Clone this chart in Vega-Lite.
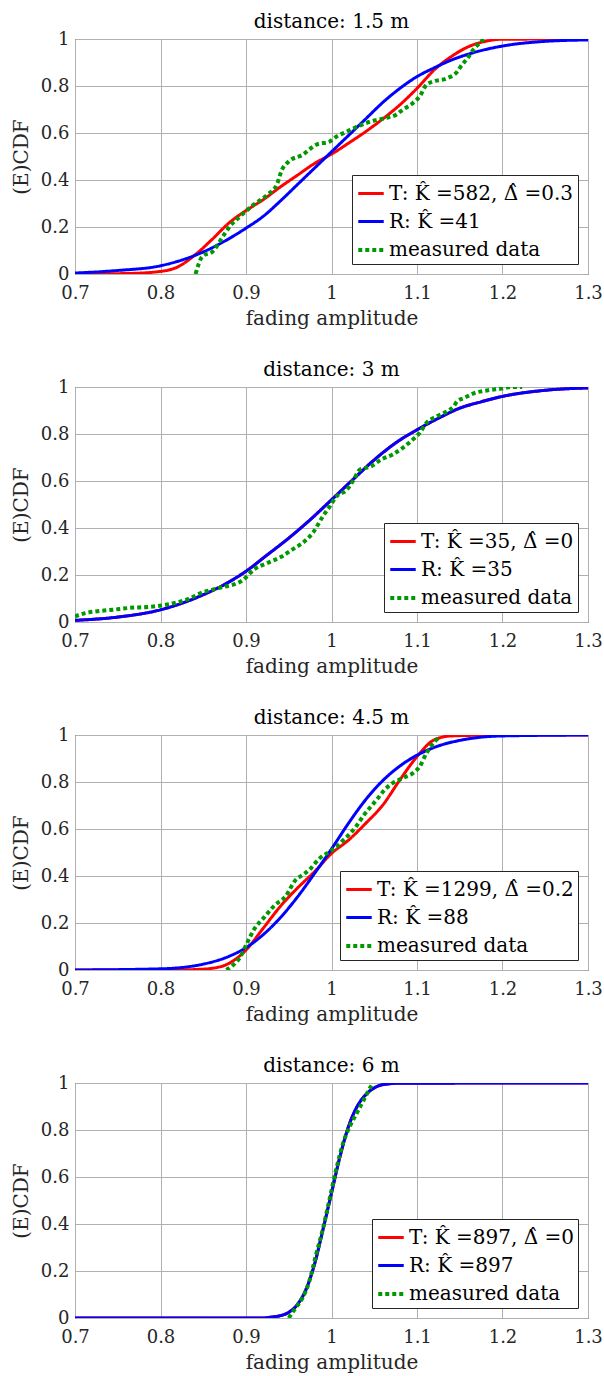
{
  "$schema": "https://vega.github.io/schema/vega-lite/v6.json",
  "background": "white",
  "padding": {"left": 10, "top": 11, "right": 10, "bottom": 5},
  "spacing": 30,
  "config": {
    "font": "DejaVu Serif",
    "style": {"guide-label": {"font": "DejaVu Serif"}, "guide-title": {"font": "DejaVu Serif"}},
    "view": {"stroke": "#262626", "strokeWidth": 1},
    "title": {"font": "DejaVu Serif", "fontSize": 20, "fontWeight": "normal", "color": "#000000", "offset": -2},
    "axis": {
      "labelFont": "DejaVu Serif", "labelFontSize": 18, "labelColor": "#262626", "labelFlush": false,
      "titleFont": "DejaVu Serif", "titleFontSize": 20, "titleFontWeight": "normal", "titleColor": "#262626",
      "grid": true, "gridColor": "#b0b0b0", "gridWidth": 1,
      "ticks": false, "domain": false
    },
    "legend": {
      "orient": "bottom-right", "offset": 10,
      "fillColor": "white", "strokeColor": "#262626",
      "padding": 4, "rowPadding": 3, "labelOffset": 3, "labelLimit": 400,
      "labelFont": "DejaVu Serif", "labelFontSize": 20, "labelColor": "#000000",
      "symbolType": "stroke", "symbolSize": 650, "symbolStrokeWidth": 3.5,
      "title": null
    }
  },
  "resolve": {"scale": {"color": "independent", "strokeDash": "independent", "strokeWidth": "independent"}, "legend": {"color": "independent", "strokeDash": "independent"}},
  "datasets": {
    "p1": [
      {"s": "T: K̂ =582, Δ̂ =0.3", "x": 0.7, "y": 0.0},
      {"s": "T: K̂ =582, Δ̂ =0.3", "x": 0.76, "y": 0.002},
      {"s": "T: K̂ =582, Δ̂ =0.3", "x": 0.8, "y": 0.011},
      {"s": "T: K̂ =582, Δ̂ =0.3", "x": 0.82, "y": 0.03},
      {"s": "T: K̂ =582, Δ̂ =0.3", "x": 0.84, "y": 0.08},
      {"s": "T: K̂ =582, Δ̂ =0.3", "x": 0.86, "y": 0.146},
      {"s": "T: K̂ =582, Δ̂ =0.3", "x": 0.88, "y": 0.217},
      {"s": "T: K̂ =582, Δ̂ =0.3", "x": 0.9, "y": 0.27},
      {"s": "T: K̂ =582, Δ̂ =0.3", "x": 0.92, "y": 0.316},
      {"s": "T: K̂ =582, Δ̂ =0.3", "x": 0.94, "y": 0.37},
      {"s": "T: K̂ =582, Δ̂ =0.3", "x": 0.96, "y": 0.42},
      {"s": "T: K̂ =582, Δ̂ =0.3", "x": 0.98, "y": 0.47},
      {"s": "T: K̂ =582, Δ̂ =0.3", "x": 1.0, "y": 0.51},
      {"s": "T: K̂ =582, Δ̂ =0.3", "x": 1.02, "y": 0.557},
      {"s": "T: K̂ =582, Δ̂ =0.3", "x": 1.04, "y": 0.606},
      {"s": "T: K̂ =582, Δ̂ =0.3", "x": 1.06, "y": 0.66},
      {"s": "T: K̂ =582, Δ̂ =0.3", "x": 1.08, "y": 0.72},
      {"s": "T: K̂ =582, Δ̂ =0.3", "x": 1.1, "y": 0.79},
      {"s": "T: K̂ =582, Δ̂ =0.3", "x": 1.12, "y": 0.868},
      {"s": "T: K̂ =582, Δ̂ =0.3", "x": 1.14, "y": 0.925},
      {"s": "T: K̂ =582, Δ̂ =0.3", "x": 1.16, "y": 0.967},
      {"s": "T: K̂ =582, Δ̂ =0.3", "x": 1.18, "y": 0.99},
      {"s": "T: K̂ =582, Δ̂ =0.3", "x": 1.2, "y": 0.999},
      {"s": "T: K̂ =582, Δ̂ =0.3", "x": 1.3, "y": 1.0},
      {"s": "R: K̂ =41", "x": 0.7, "y": 0.004},
      {"s": "R: K̂ =41", "x": 0.75, "y": 0.015},
      {"s": "R: K̂ =41", "x": 0.8, "y": 0.035},
      {"s": "R: K̂ =41", "x": 0.85, "y": 0.094},
      {"s": "R: K̂ =41", "x": 0.9, "y": 0.195},
      {"s": "R: K̂ =41", "x": 0.92, "y": 0.245},
      {"s": "R: K̂ =41", "x": 0.94, "y": 0.31},
      {"s": "R: K̂ =41", "x": 0.96, "y": 0.38},
      {"s": "R: K̂ =41", "x": 0.98, "y": 0.45},
      {"s": "R: K̂ =41", "x": 1.0, "y": 0.52},
      {"s": "R: K̂ =41", "x": 1.02, "y": 0.59},
      {"s": "R: K̂ =41", "x": 1.04, "y": 0.66},
      {"s": "R: K̂ =41", "x": 1.06, "y": 0.73},
      {"s": "R: K̂ =41", "x": 1.08, "y": 0.79},
      {"s": "R: K̂ =41", "x": 1.1, "y": 0.84},
      {"s": "R: K̂ =41", "x": 1.12, "y": 0.877},
      {"s": "R: K̂ =41", "x": 1.14, "y": 0.91},
      {"s": "R: K̂ =41", "x": 1.17, "y": 0.946},
      {"s": "R: K̂ =41", "x": 1.2, "y": 0.97},
      {"s": "R: K̂ =41", "x": 1.25, "y": 0.99},
      {"s": "R: K̂ =41", "x": 1.3, "y": 0.996},
      {"s": "measured data", "x": 0.841, "y": 0.0},
      {"s": "measured data", "x": 0.849, "y": 0.075},
      {"s": "measured data", "x": 0.861, "y": 0.096},
      {"s": "measured data", "x": 0.873, "y": 0.16},
      {"s": "measured data", "x": 0.881, "y": 0.202},
      {"s": "measured data", "x": 0.893, "y": 0.245},
      {"s": "measured data", "x": 0.909, "y": 0.295},
      {"s": "measured data", "x": 0.925, "y": 0.337},
      {"s": "measured data", "x": 0.936, "y": 0.38},
      {"s": "measured data", "x": 0.942, "y": 0.443},
      {"s": "measured data", "x": 0.95, "y": 0.479},
      {"s": "measured data", "x": 0.966, "y": 0.507},
      {"s": "measured data", "x": 0.982, "y": 0.55},
      {"s": "measured data", "x": 0.998, "y": 0.564},
      {"s": "measured data", "x": 1.006, "y": 0.585},
      {"s": "measured data", "x": 1.018, "y": 0.606},
      {"s": "measured data", "x": 1.03, "y": 0.627},
      {"s": "measured data", "x": 1.046, "y": 0.649},
      {"s": "measured data", "x": 1.062, "y": 0.663},
      {"s": "measured data", "x": 1.075, "y": 0.677},
      {"s": "measured data", "x": 1.083, "y": 0.698},
      {"s": "measured data", "x": 1.095, "y": 0.727},
      {"s": "measured data", "x": 1.103, "y": 0.755},
      {"s": "measured data", "x": 1.111, "y": 0.805},
      {"s": "measured data", "x": 1.119, "y": 0.819},
      {"s": "measured data", "x": 1.135, "y": 0.833},
      {"s": "measured data", "x": 1.147, "y": 0.861},
      {"s": "measured data", "x": 1.151, "y": 0.882},
      {"s": "measured data", "x": 1.159, "y": 0.918},
      {"s": "measured data", "x": 1.167, "y": 0.96},
      {"s": "measured data", "x": 1.173, "y": 0.982},
      {"s": "measured data", "x": 1.178, "y": 1.0}
    ],
    "p2": [
      {"s": "T: K̂ =35, Δ̂ =0", "x": 0.7, "y": 0.007},
      {"s": "T: K̂ =35, Δ̂ =0", "x": 0.75, "y": 0.021},
      {"s": "T: K̂ =35, Δ̂ =0", "x": 0.8, "y": 0.052},
      {"s": "T: K̂ =35, Δ̂ =0", "x": 0.85, "y": 0.116},
      {"s": "T: K̂ =35, Δ̂ =0", "x": 0.875, "y": 0.16},
      {"s": "T: K̂ =35, Δ̂ =0", "x": 0.9, "y": 0.216},
      {"s": "T: K̂ =35, Δ̂ =0", "x": 0.925, "y": 0.286},
      {"s": "T: K̂ =35, Δ̂ =0", "x": 0.95, "y": 0.357},
      {"s": "T: K̂ =35, Δ̂ =0", "x": 0.975, "y": 0.435},
      {"s": "T: K̂ =35, Δ̂ =0", "x": 1.0, "y": 0.52},
      {"s": "T: K̂ =35, Δ̂ =0", "x": 1.025, "y": 0.606},
      {"s": "T: K̂ =35, Δ̂ =0", "x": 1.05, "y": 0.69},
      {"s": "T: K̂ =35, Δ̂ =0", "x": 1.075, "y": 0.762},
      {"s": "T: K̂ =35, Δ̂ =0", "x": 1.1, "y": 0.818},
      {"s": "T: K̂ =35, Δ̂ =0", "x": 1.125, "y": 0.867},
      {"s": "T: K̂ =35, Δ̂ =0", "x": 1.15, "y": 0.91},
      {"s": "T: K̂ =35, Δ̂ =0", "x": 1.175, "y": 0.937},
      {"s": "T: K̂ =35, Δ̂ =0", "x": 1.2, "y": 0.96},
      {"s": "T: K̂ =35, Δ̂ =0", "x": 1.25, "y": 0.986},
      {"s": "T: K̂ =35, Δ̂ =0", "x": 1.3, "y": 0.996},
      {"s": "R: K̂ =35", "x": 0.7, "y": 0.007},
      {"s": "R: K̂ =35", "x": 0.75, "y": 0.021},
      {"s": "R: K̂ =35", "x": 0.8, "y": 0.052},
      {"s": "R: K̂ =35", "x": 0.85, "y": 0.116},
      {"s": "R: K̂ =35", "x": 0.875, "y": 0.16},
      {"s": "R: K̂ =35", "x": 0.9, "y": 0.216},
      {"s": "R: K̂ =35", "x": 0.925, "y": 0.286},
      {"s": "R: K̂ =35", "x": 0.95, "y": 0.357},
      {"s": "R: K̂ =35", "x": 0.975, "y": 0.435},
      {"s": "R: K̂ =35", "x": 1.0, "y": 0.52},
      {"s": "R: K̂ =35", "x": 1.025, "y": 0.606},
      {"s": "R: K̂ =35", "x": 1.05, "y": 0.69},
      {"s": "R: K̂ =35", "x": 1.075, "y": 0.762},
      {"s": "R: K̂ =35", "x": 1.1, "y": 0.818},
      {"s": "R: K̂ =35", "x": 1.125, "y": 0.867},
      {"s": "R: K̂ =35", "x": 1.15, "y": 0.91},
      {"s": "R: K̂ =35", "x": 1.175, "y": 0.937},
      {"s": "R: K̂ =35", "x": 1.2, "y": 0.96},
      {"s": "R: K̂ =35", "x": 1.25, "y": 0.986},
      {"s": "R: K̂ =35", "x": 1.3, "y": 0.996},
      {"s": "measured data", "x": 0.7, "y": 0.024},
      {"s": "measured data", "x": 0.712, "y": 0.038},
      {"s": "measured data", "x": 0.724, "y": 0.045},
      {"s": "measured data", "x": 0.744, "y": 0.052},
      {"s": "measured data", "x": 0.764, "y": 0.06},
      {"s": "measured data", "x": 0.785, "y": 0.064},
      {"s": "measured data", "x": 0.801, "y": 0.07},
      {"s": "measured data", "x": 0.817, "y": 0.081},
      {"s": "measured data", "x": 0.833, "y": 0.098},
      {"s": "measured data", "x": 0.849, "y": 0.126},
      {"s": "measured data", "x": 0.861, "y": 0.138},
      {"s": "measured data", "x": 0.873, "y": 0.149},
      {"s": "measured data", "x": 0.885, "y": 0.159},
      {"s": "measured data", "x": 0.897, "y": 0.18},
      {"s": "measured data", "x": 0.909, "y": 0.223},
      {"s": "measured data", "x": 0.925, "y": 0.251},
      {"s": "measured data", "x": 0.942, "y": 0.279},
      {"s": "measured data", "x": 0.954, "y": 0.308},
      {"s": "measured data", "x": 0.966, "y": 0.336},
      {"s": "measured data", "x": 0.978, "y": 0.379},
      {"s": "measured data", "x": 0.99, "y": 0.45},
      {"s": "measured data", "x": 0.998, "y": 0.492},
      {"s": "measured data", "x": 1.006, "y": 0.535},
      {"s": "measured data", "x": 1.018, "y": 0.563},
      {"s": "measured data", "x": 1.026, "y": 0.606},
      {"s": "measured data", "x": 1.033, "y": 0.648},
      {"s": "measured data", "x": 1.046, "y": 0.662},
      {"s": "measured data", "x": 1.058, "y": 0.691},
      {"s": "measured data", "x": 1.071, "y": 0.712},
      {"s": "measured data", "x": 1.083, "y": 0.74},
      {"s": "measured data", "x": 1.095, "y": 0.776},
      {"s": "measured data", "x": 1.103, "y": 0.804},
      {"s": "measured data", "x": 1.111, "y": 0.847},
      {"s": "measured data", "x": 1.123, "y": 0.875},
      {"s": "measured data", "x": 1.135, "y": 0.896},
      {"s": "measured data", "x": 1.143, "y": 0.918},
      {"s": "measured data", "x": 1.147, "y": 0.939},
      {"s": "measured data", "x": 1.155, "y": 0.953},
      {"s": "measured data", "x": 1.167, "y": 0.974},
      {"s": "measured data", "x": 1.183, "y": 0.986},
      {"s": "measured data", "x": 1.199, "y": 0.993},
      {"s": "measured data", "x": 1.211, "y": 1.0},
      {"s": "measured data", "x": 1.223, "y": 1.0}
    ],
    "p3": [
      {"s": "T: K̂ =1299, Δ̂ =0.2", "x": 0.7, "y": 0.0},
      {"s": "T: K̂ =1299, Δ̂ =0.2", "x": 0.82, "y": 0.0},
      {"s": "T: K̂ =1299, Δ̂ =0.2", "x": 0.84, "y": 0.002},
      {"s": "T: K̂ =1299, Δ̂ =0.2", "x": 0.86, "y": 0.007},
      {"s": "T: K̂ =1299, Δ̂ =0.2", "x": 0.88, "y": 0.028},
      {"s": "T: K̂ =1299, Δ̂ =0.2", "x": 0.9, "y": 0.085},
      {"s": "T: K̂ =1299, Δ̂ =0.2", "x": 0.92, "y": 0.177},
      {"s": "T: K̂ =1299, Δ̂ =0.2", "x": 0.94, "y": 0.27},
      {"s": "T: K̂ =1299, Δ̂ =0.2", "x": 0.96, "y": 0.348},
      {"s": "T: K̂ =1299, Δ̂ =0.2", "x": 0.98, "y": 0.418},
      {"s": "T: K̂ =1299, Δ̂ =0.2", "x": 1.0, "y": 0.496},
      {"s": "T: K̂ =1299, Δ̂ =0.2", "x": 1.02, "y": 0.553},
      {"s": "T: K̂ =1299, Δ̂ =0.2", "x": 1.04, "y": 0.624},
      {"s": "T: K̂ =1299, Δ̂ =0.2", "x": 1.06, "y": 0.702},
      {"s": "T: K̂ =1299, Δ̂ =0.2", "x": 1.08, "y": 0.809},
      {"s": "T: K̂ =1299, Δ̂ =0.2", "x": 1.1, "y": 0.908},
      {"s": "T: K̂ =1299, Δ̂ =0.2", "x": 1.12, "y": 0.979},
      {"s": "T: K̂ =1299, Δ̂ =0.2", "x": 1.14, "y": 0.996},
      {"s": "T: K̂ =1299, Δ̂ =0.2", "x": 1.2, "y": 1.0},
      {"s": "T: K̂ =1299, Δ̂ =0.2", "x": 1.3, "y": 1.0},
      {"s": "R: K̂ =88", "x": 0.7, "y": 0.0},
      {"s": "R: K̂ =88", "x": 0.8, "y": 0.005},
      {"s": "R: K̂ =88", "x": 0.85, "y": 0.025},
      {"s": "R: K̂ =88", "x": 0.88, "y": 0.058},
      {"s": "R: K̂ =88", "x": 0.9, "y": 0.095},
      {"s": "R: K̂ =88", "x": 0.92, "y": 0.15},
      {"s": "R: K̂ =88", "x": 0.94, "y": 0.222},
      {"s": "R: K̂ =88", "x": 0.96, "y": 0.31},
      {"s": "R: K̂ =88", "x": 0.98, "y": 0.41},
      {"s": "R: K̂ =88", "x": 1.0, "y": 0.515},
      {"s": "R: K̂ =88", "x": 1.02, "y": 0.625},
      {"s": "R: K̂ =88", "x": 1.04, "y": 0.725},
      {"s": "R: K̂ =88", "x": 1.06, "y": 0.806},
      {"s": "R: K̂ =88", "x": 1.08, "y": 0.868},
      {"s": "R: K̂ =88", "x": 1.1, "y": 0.914},
      {"s": "R: K̂ =88", "x": 1.12, "y": 0.947},
      {"s": "R: K̂ =88", "x": 1.15, "y": 0.977},
      {"s": "R: K̂ =88", "x": 1.2, "y": 0.996},
      {"s": "R: K̂ =88", "x": 1.3, "y": 1.0},
      {"s": "measured data", "x": 0.877, "y": 0.0},
      {"s": "measured data", "x": 0.885, "y": 0.021},
      {"s": "measured data", "x": 0.893, "y": 0.054},
      {"s": "measured data", "x": 0.901, "y": 0.113},
      {"s": "measured data", "x": 0.909, "y": 0.17},
      {"s": "measured data", "x": 0.922, "y": 0.227},
      {"s": "measured data", "x": 0.934, "y": 0.277},
      {"s": "measured data", "x": 0.946, "y": 0.312},
      {"s": "measured data", "x": 0.958, "y": 0.383},
      {"s": "measured data", "x": 0.966, "y": 0.404},
      {"s": "measured data", "x": 0.974, "y": 0.426},
      {"s": "measured data", "x": 0.986, "y": 0.475},
      {"s": "measured data", "x": 0.998, "y": 0.504},
      {"s": "measured data", "x": 1.006, "y": 0.525},
      {"s": "measured data", "x": 1.014, "y": 0.553},
      {"s": "measured data", "x": 1.022, "y": 0.582},
      {"s": "measured data", "x": 1.03, "y": 0.617},
      {"s": "measured data", "x": 1.038, "y": 0.66},
      {"s": "measured data", "x": 1.046, "y": 0.695},
      {"s": "measured data", "x": 1.054, "y": 0.73},
      {"s": "measured data", "x": 1.062, "y": 0.766},
      {"s": "measured data", "x": 1.071, "y": 0.794},
      {"s": "measured data", "x": 1.079, "y": 0.809},
      {"s": "measured data", "x": 1.087, "y": 0.823},
      {"s": "measured data", "x": 1.095, "y": 0.837},
      {"s": "measured data", "x": 1.103, "y": 0.865},
      {"s": "measured data", "x": 1.111, "y": 0.922},
      {"s": "measured data", "x": 1.119, "y": 0.965},
      {"s": "measured data", "x": 1.127, "y": 0.993}
    ],
    "p4": [
      {"s": "T: K̂ =897, Δ̂ =0", "x": 0.7, "y": 0.0},
      {"s": "T: K̂ =897, Δ̂ =0", "x": 0.92, "y": 0.0},
      {"s": "T: K̂ =897, Δ̂ =0", "x": 0.93, "y": 0.004},
      {"s": "T: K̂ =897, Δ̂ =0", "x": 0.94, "y": 0.01},
      {"s": "T: K̂ =897, Δ̂ =0", "x": 0.95, "y": 0.024},
      {"s": "T: K̂ =897, Δ̂ =0", "x": 0.96, "y": 0.057},
      {"s": "T: K̂ =897, Δ̂ =0", "x": 0.97, "y": 0.12},
      {"s": "T: K̂ =897, Δ̂ =0", "x": 0.98, "y": 0.227},
      {"s": "T: K̂ =897, Δ̂ =0", "x": 0.99, "y": 0.376},
      {"s": "T: K̂ =897, Δ̂ =0", "x": 1.0, "y": 0.532},
      {"s": "T: K̂ =897, Δ̂ =0", "x": 1.01, "y": 0.688},
      {"s": "T: K̂ =897, Δ̂ =0", "x": 1.02, "y": 0.816},
      {"s": "T: K̂ =897, Δ̂ =0", "x": 1.03, "y": 0.9},
      {"s": "T: K̂ =897, Δ̂ =0", "x": 1.04, "y": 0.95},
      {"s": "T: K̂ =897, Δ̂ =0", "x": 1.05, "y": 0.979},
      {"s": "T: K̂ =897, Δ̂ =0", "x": 1.06, "y": 0.993},
      {"s": "T: K̂ =897, Δ̂ =0", "x": 1.08, "y": 0.999},
      {"s": "T: K̂ =897, Δ̂ =0", "x": 1.3, "y": 1.0},
      {"s": "R: K̂ =897", "x": 0.7, "y": 0.0},
      {"s": "R: K̂ =897", "x": 0.92, "y": 0.0},
      {"s": "R: K̂ =897", "x": 0.93, "y": 0.004},
      {"s": "R: K̂ =897", "x": 0.94, "y": 0.01},
      {"s": "R: K̂ =897", "x": 0.95, "y": 0.024},
      {"s": "R: K̂ =897", "x": 0.96, "y": 0.057},
      {"s": "R: K̂ =897", "x": 0.97, "y": 0.12},
      {"s": "R: K̂ =897", "x": 0.98, "y": 0.227},
      {"s": "R: K̂ =897", "x": 0.99, "y": 0.376},
      {"s": "R: K̂ =897", "x": 1.0, "y": 0.532},
      {"s": "R: K̂ =897", "x": 1.01, "y": 0.688},
      {"s": "R: K̂ =897", "x": 1.02, "y": 0.816},
      {"s": "R: K̂ =897", "x": 1.03, "y": 0.9},
      {"s": "R: K̂ =897", "x": 1.04, "y": 0.95},
      {"s": "R: K̂ =897", "x": 1.05, "y": 0.979},
      {"s": "R: K̂ =897", "x": 1.06, "y": 0.993},
      {"s": "R: K̂ =897", "x": 1.08, "y": 0.999},
      {"s": "R: K̂ =897", "x": 1.3, "y": 1.0},
      {"s": "measured data", "x": 0.95, "y": 0.0},
      {"s": "measured data", "x": 0.958, "y": 0.043},
      {"s": "measured data", "x": 0.966, "y": 0.085},
      {"s": "measured data", "x": 0.974, "y": 0.156},
      {"s": "measured data", "x": 0.982, "y": 0.27},
      {"s": "measured data", "x": 0.99, "y": 0.38},
      {"s": "measured data", "x": 0.998, "y": 0.51},
      {"s": "measured data", "x": 1.006, "y": 0.64},
      {"s": "measured data", "x": 1.014, "y": 0.75},
      {"s": "measured data", "x": 1.022, "y": 0.82},
      {"s": "measured data", "x": 1.03, "y": 0.875},
      {"s": "measured data", "x": 1.038, "y": 0.93},
      {"s": "measured data", "x": 1.046, "y": 0.985},
      {"s": "measured data", "x": 1.048, "y": 0.997}
    ]
  },
  "vconcat": [
    {
      "title": "distance: 1.5 m",
      "width": 513, "height": 235,
      "data": {"name": "p1"},
      "mark": {"type": "line", "interpolate": "monotone", "strokeCap": "butt", "clip": true},
      "encoding": {
        "x": {"field": "x", "type": "quantitative", "title": "fading amplitude", "scale": {"domain": [0.7, 1.3], "nice": false, "zero": false}, "axis": {"values": [0.7, 0.8, 0.9, 1, 1.1, 1.2, 1.3], "format": "~g", "labelPadding": 10, "titlePadding": 6}},
        "y": {"field": "y", "type": "quantitative", "title": "(E)CDF", "scale": {"domain": [0, 1], "nice": false}, "axis": {"values": [0, 0.2, 0.4, 0.6, 0.8, 1], "format": "~g", "labelPadding": 6, "titlePadding": 9}},
        "color": {"field": "s", "type": "nominal", "sort": null, "legend": {"labelFont": "DejaVu Serif"}, "scale": {"domain": ["T: K̂ =582, Δ̂ =0.3", "R: K̂ =41", "measured data"], "range": ["#ff0000", "#0000ff", "#009900"]}},
        "strokeDash": {"field": "s", "type": "nominal", "sort": null, "legend": {"labelFont": "DejaVu Serif"}, "scale": {"domain": ["T: K̂ =582, Δ̂ =0.3", "R: K̂ =41", "measured data"], "range": [[1, 0], [1, 0], [4, 3]]}},
        "strokeWidth": {"field": "s", "type": "nominal", "sort": null, "legend": null, "scale": {"type": "ordinal", "domain": ["T: K̂ =582, Δ̂ =0.3", "R: K̂ =41", "measured data"], "range": [3, 3, 4]}}
      }
    },
    {
      "title": "distance: 3 m",
      "width": 513, "height": 235,
      "data": {"name": "p2"},
      "mark": {"type": "line", "interpolate": "monotone", "strokeCap": "butt", "clip": true},
      "encoding": {
        "x": {"field": "x", "type": "quantitative", "title": "fading amplitude", "scale": {"domain": [0.7, 1.3], "nice": false, "zero": false}, "axis": {"values": [0.7, 0.8, 0.9, 1, 1.1, 1.2, 1.3], "format": "~g", "labelPadding": 10, "titlePadding": 6}},
        "y": {"field": "y", "type": "quantitative", "title": "(E)CDF", "scale": {"domain": [0, 1], "nice": false}, "axis": {"values": [0, 0.2, 0.4, 0.6, 0.8, 1], "format": "~g", "labelPadding": 6, "titlePadding": 9}},
        "color": {"field": "s", "type": "nominal", "sort": null, "legend": {"labelFont": "DejaVu Serif"}, "scale": {"domain": ["T: K̂ =35, Δ̂ =0", "R: K̂ =35", "measured data"], "range": ["#ff0000", "#0000ff", "#009900"]}},
        "strokeDash": {"field": "s", "type": "nominal", "sort": null, "legend": {"labelFont": "DejaVu Serif"}, "scale": {"domain": ["T: K̂ =35, Δ̂ =0", "R: K̂ =35", "measured data"], "range": [[1, 0], [1, 0], [4, 3]]}},
        "strokeWidth": {"field": "s", "type": "nominal", "sort": null, "legend": null, "scale": {"type": "ordinal", "domain": ["T: K̂ =35, Δ̂ =0", "R: K̂ =35", "measured data"], "range": [3, 3, 4]}}
      }
    },
    {
      "title": "distance: 4.5 m",
      "width": 513, "height": 235,
      "data": {"name": "p3"},
      "mark": {"type": "line", "interpolate": "monotone", "strokeCap": "butt", "clip": true},
      "encoding": {
        "x": {"field": "x", "type": "quantitative", "title": "fading amplitude", "scale": {"domain": [0.7, 1.3], "nice": false, "zero": false}, "axis": {"values": [0.7, 0.8, 0.9, 1, 1.1, 1.2, 1.3], "format": "~g", "labelPadding": 10, "titlePadding": 6}},
        "y": {"field": "y", "type": "quantitative", "title": "(E)CDF", "scale": {"domain": [0, 1], "nice": false}, "axis": {"values": [0, 0.2, 0.4, 0.6, 0.8, 1], "format": "~g", "labelPadding": 6, "titlePadding": 9}},
        "color": {"field": "s", "type": "nominal", "sort": null, "legend": {"labelFont": "DejaVu Serif"}, "scale": {"domain": ["T: K̂ =1299, Δ̂ =0.2", "R: K̂ =88", "measured data"], "range": ["#ff0000", "#0000ff", "#009900"]}},
        "strokeDash": {"field": "s", "type": "nominal", "sort": null, "legend": {"labelFont": "DejaVu Serif"}, "scale": {"domain": ["T: K̂ =1299, Δ̂ =0.2", "R: K̂ =88", "measured data"], "range": [[1, 0], [1, 0], [4, 3]]}},
        "strokeWidth": {"field": "s", "type": "nominal", "sort": null, "legend": null, "scale": {"type": "ordinal", "domain": ["T: K̂ =1299, Δ̂ =0.2", "R: K̂ =88", "measured data"], "range": [3, 3, 4]}}
      }
    },
    {
      "title": "distance: 6 m",
      "width": 513, "height": 235,
      "data": {"name": "p4"},
      "mark": {"type": "line", "interpolate": "monotone", "strokeCap": "butt", "clip": true},
      "encoding": {
        "x": {"field": "x", "type": "quantitative", "title": "fading amplitude", "scale": {"domain": [0.7, 1.3], "nice": false, "zero": false}, "axis": {"values": [0.7, 0.8, 0.9, 1, 1.1, 1.2, 1.3], "format": "~g", "labelPadding": 10, "titlePadding": 6}},
        "y": {"field": "y", "type": "quantitative", "title": "(E)CDF", "scale": {"domain": [0, 1], "nice": false}, "axis": {"values": [0, 0.2, 0.4, 0.6, 0.8, 1], "format": "~g", "labelPadding": 6, "titlePadding": 9}},
        "color": {"field": "s", "type": "nominal", "sort": null, "legend": {"labelFont": "DejaVu Serif"}, "scale": {"domain": ["T: K̂ =897, Δ̂ =0", "R: K̂ =897", "measured data"], "range": ["#ff0000", "#0000ff", "#009900"]}},
        "strokeDash": {"field": "s", "type": "nominal", "sort": null, "legend": {"labelFont": "DejaVu Serif"}, "scale": {"domain": ["T: K̂ =897, Δ̂ =0", "R: K̂ =897", "measured data"], "range": [[1, 0], [1, 0], [4, 3]]}},
        "strokeWidth": {"field": "s", "type": "nominal", "sort": null, "legend": null, "scale": {"type": "ordinal", "domain": ["T: K̂ =897, Δ̂ =0", "R: K̂ =897", "measured data"], "range": [3, 3, 4]}}
      }
    }
  ]
}
